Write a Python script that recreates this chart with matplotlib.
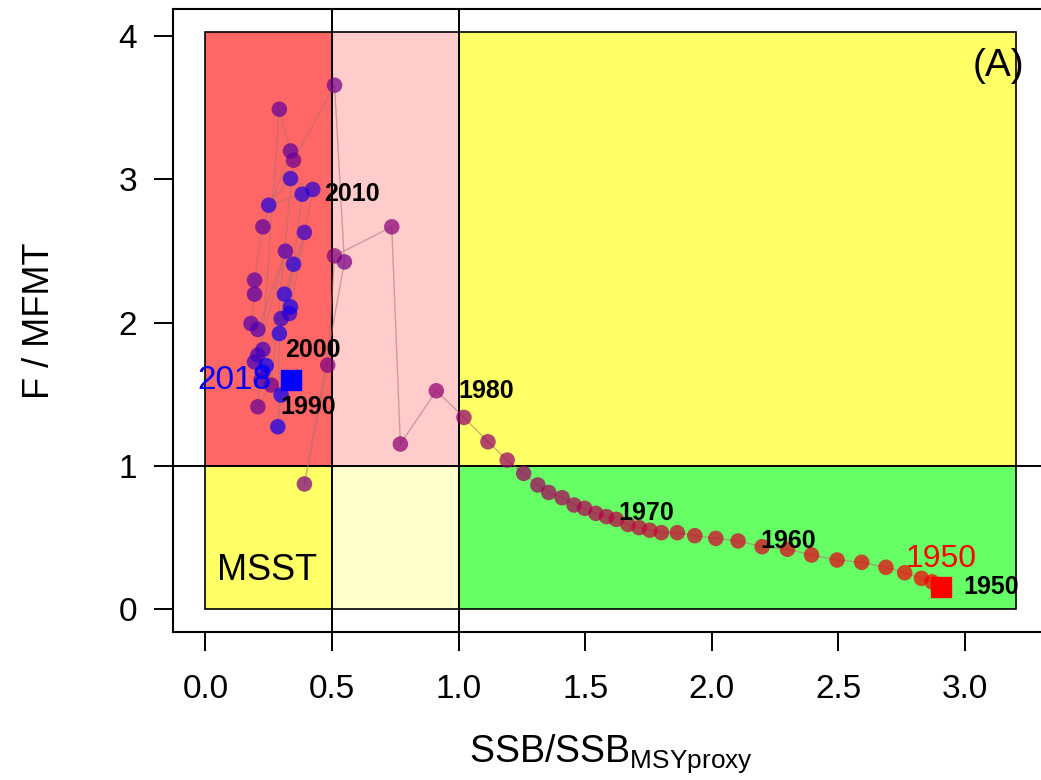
import numpy as np
import matplotlib.pyplot as plt
from matplotlib.patches import Rectangle
from matplotlib.colors import LinearSegmentedColormap

plt.rcParams['font.family'] = ['Liberation Sans', 'DejaVu Sans']

# stock status by year: SSB / SSB_MSYproxy and F / MFMT
years = list(range(1950, 2019))
ssb_ratio = [
    2.905, 2.870, 2.828, 2.762, 2.688, 2.592, 2.495, 2.394, 2.299, 2.199,
    2.104, 2.016, 1.933, 1.864, 1.801, 1.755, 1.713, 1.669, 1.623, 1.584,
    1.542, 1.498, 1.456, 1.409, 1.356, 1.313, 1.257, 1.192, 1.116, 1.021,
    0.912, 0.770, 0.736, 0.510, 0.483, 0.391, 0.549, 0.510, 0.348, 0.260,
    0.207, 0.292, 0.336, 0.227, 0.194, 0.194, 0.180, 0.207, 0.316, 0.207,
    0.227, 0.194, 0.227, 0.220, 0.391, 0.299, 0.332, 0.424, 0.336, 0.250,
    0.382, 0.348, 0.312, 0.336, 0.292, 0.286, 0.299, 0.240, 0.339,
]
f_ratio = [
    0.155, 0.190, 0.214, 0.253, 0.291, 0.326, 0.342, 0.377, 0.417, 0.435,
    0.475, 0.493, 0.512, 0.533, 0.533, 0.550, 0.568, 0.590, 0.626, 0.645,
    0.668, 0.703, 0.726, 0.777, 0.814, 0.866, 0.947, 1.040, 1.168, 1.338,
    1.524, 1.152, 2.669, 2.466, 1.703, 0.873, 2.424, 3.658, 3.134, 1.564,
    1.412, 3.490, 3.199, 2.669, 2.297, 2.199, 1.994, 1.952, 2.499, 1.773,
    1.812, 1.726, 1.656, 1.599, 2.630, 2.028, 2.064, 2.930, 3.006, 2.820,
    2.897, 2.408, 2.199, 2.110, 1.924, 1.273, 1.494, 1.700, 1.599,
]
label_years = [1950, 1960, 1970, 1980, 1990, 2000, 2010]

# zone limits
msst = 0.5
ssb_max = 3.2
f_max = 4.03

ssb = np.array(ssb_ratio)
f = np.array(f_ratio)

fig = plt.figure(figsize=(10.41, 7.8), dpi=100)
ax = fig.add_axes([0.1662, 0.1897, 0.8405, 0.7987])

zones = [
    (msst, 1, 0, 1, '#ffffcc'),
    (1, ssb_max, 0, 1, '#66ff66'),
    (0, msst, 1, f_max, '#ff6666'),
    (msst, 1, 1, f_max, '#ffcccc'),
    (1, ssb_max, 1, f_max, '#ffff66'),
    (0, msst, 0, 1, '#ffff66'),
]
for x0, x1, y0, y1, col in zones:
    ax.add_patch(Rectangle((x0, y0), x1 - x0, y1 - y0, facecolor=col,
                           edgecolor='black', linewidth=1.2, zorder=1))

ax.axvline(msst, color='black', lw=1.4, zorder=2)
ax.axvline(1, color='black', lw=1.4, zorder=2)
ax.axhline(1, color='black', lw=1.4, zorder=2)

ax.text(0.045, 0.27, 'MSST', fontsize=26, ha='left', va='center', zorder=3)
ax.text(3.235, 3.79, '(A)', fontsize=28, ha='right', va='center', zorder=3)

# trajectory, coloured red (first year) to blue (last year)
ax.plot(ssb, f, color='#b07070', alpha=0.55, lw=1.0, zorder=3)
cmap = LinearSegmentedColormap.from_list('rb', ['red', 'blue'])
cols = cmap(np.linspace(0, 1, len(years)))
ax.scatter(ssb, f, s=125, c=cols, alpha=0.72, edgecolors='none', zorder=4)

ax.plot(ssb[0], f[0], 's', color='red', ms=14, zorder=5)
ax.plot(ssb[-1], f[-1], 's', color='blue', ms=14, zorder=5)

for yr in label_years:
    i = years.index(yr)
    ax.annotate(str(yr), (ssb[i], f[i]), xytext=(16, 0),
                textcoords='offset points', ha='left', va='center',
                fontsize=18, fontweight='bold', zorder=6)
ax.annotate(str(years[0]), (ssb[0], f[0]), xytext=(0, 9),
            textcoords='offset points', ha='center', va='bottom',
            fontsize=23, color='red', zorder=6)
ax.annotate(str(years[-1]), (ssb[-1], f[-1]), xytext=(-14, 0),
            textcoords='offset points', ha='right', va='center',
            fontsize=24, color='blue', zorder=6)

ax.set_xlim(-0.128, 3.328)
ax.set_ylim(-0.161, 4.19)
ax.set_xticks(np.arange(0, 3.01, 0.5))
ax.set_xticklabels(['0.0', '0.5', '1.0', '1.5', '2.0', '2.5', '3.0'])
ax.set_yticks([0, 1, 2, 3, 4])
ax.tick_params(axis='both', length=14, width=1.4, labelsize=24, pad=12)
ax.tick_params(axis='x', pad=16)
for sp in ax.spines.values():
    sp.set_linewidth(1.5)

ax.set_xlabel(r'SSB/SSB$_{\mathregular{MSYproxy}}$', fontsize=27, labelpad=20)
ax.set_ylabel('F / MFMT', fontsize=26, labelpad=44)

fig.savefig('out.png', dpi=100)
